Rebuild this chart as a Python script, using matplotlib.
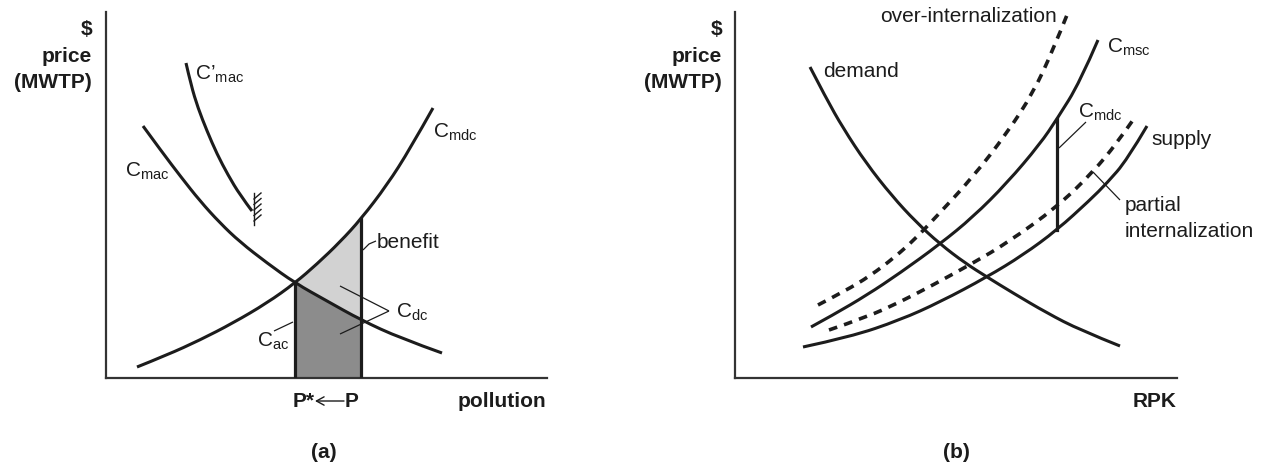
import matplotlib
matplotlib.use("Agg")
import matplotlib.pyplot as plt
from matplotlib.path import Path
from matplotlib.patches import PathPatch
import numpy as np

plt.rcParams['font.family'] = ['Liberation Sans', 'DejaVu Sans']
plt.rcParams['mathtext.fontset'] = 'custom'
plt.rcParams['mathtext.rm'] = 'Liberation Sans'
plt.rcParams['mathtext.it'] = 'Liberation Sans'
plt.rcParams['mathtext.bf'] = 'Liberation Sans:bold'

# ---------------- data (read from the picture, pixel units, y measured from top) -----
# panel (a)
cmac_x = [143, 162, 181, 200, 220, 240, 267, 295, 327, 361, 400, 442]
cmac_y = [126, 152, 177, 201, 223, 242, 263, 283, 301, 320, 338, 353]
cmac2_x = [186, 191, 198, 207, 217, 228, 240, 252]
cmac2_y = [63, 85, 108, 131, 154, 175, 195, 211]
cmdc_x = [137, 167, 200, 233, 267, 295, 317, 340, 361, 387, 410, 433]
cmdc_y = [367, 355, 340, 323, 303, 283, 264, 242, 219, 185, 149, 108]
p_star_x = 295
p_x = 361
hatch_x = 254
hatch_y = [199, 204.5, 210, 215.5, 221]

# panel (b)
demand_x = [810, 826, 843, 866, 892, 916, 940, 965, 987, 1013, 1047, 1080, 1120]
demand_y = [67, 98, 128, 163, 196, 222, 244, 263, 277, 293, 313, 330, 346]
msc_x = [811, 833, 867, 900, 940, 973, 1007, 1040, 1057, 1080, 1098]
msc_y = [327, 315, 295, 273, 244, 217, 183, 144, 119, 82, 40]
over_x = [818, 845, 870, 895, 915, 935, 973, 1007, 1033, 1053, 1067]
over_y = [305, 291, 276, 257, 239, 218, 177, 133, 93, 50, 15]
partial_x = [829, 867, 900, 933, 973, 1007, 1057, 1093, 1117, 1133]
partial_y = [330, 317, 302, 285, 263, 243, 207, 172, 143, 120]
supply_x = [803, 850, 900, 940, 987, 1023, 1057, 1090, 1107, 1127, 1147]
supply_y = [347, 337, 320, 302, 277, 255, 230, 200, 183, 160, 126]
mdc_b_x = 1057

W, H = 1265, 463
INK = '#1c1c1c'
FS = 15

fig = plt.figure(figsize=(W / 100, H / 100), dpi=100)


def add_panel(x0, x1, ytop, ybot):
    ax = fig.add_axes([x0 / W, 1 - ybot / H, (x1 - x0) / W, (ybot - ytop) / H])
    ax.set_xlim(x0, x1)
    ax.set_ylim(ybot, ytop)
    for s in ('top', 'right'):
        ax.spines[s].set_visible(False)
    for s in ('left', 'bottom'):
        ax.spines[s].set_linewidth(1.6)
        ax.spines[s].set_color('#333333')
    ax.set_xticks([])
    ax.set_yticks([])
    ax.patch.set_alpha(0)
    return ax


def smooth_curve(ax, xs, ys, dashed=False):
    """Draw a smooth curve using the read points as quadratic Bezier control points."""
    pts = np.column_stack([xs, ys]).astype(float)
    n = len(pts)
    verts = [pts[0]]
    codes = [Path.MOVETO]
    for i in range(1, n - 1):
        end = pts[n - 1] if i == n - 2 else (pts[i] + pts[i + 1]) / 2
        verts += [pts[i], end]
        codes += [Path.CURVE3, Path.CURVE3]
    if n == 2:
        verts.append(pts[1])
        codes.append(Path.LINETO)
    if dashed:
        patch = PathPatch(Path(verts, codes), facecolor='none', edgecolor=INK,
                          lw=2.6, linestyle=(0, (2.4, 2.0)), capstyle='butt',
                          zorder=3, clip_on=False)
    else:
        patch = PathPatch(Path(verts, codes), facecolor='none', edgecolor=INK,
                          lw=2.2, capstyle='butt', joinstyle='round',
                          zorder=3, clip_on=False)
    ax.add_patch(patch)


def txt(ax, x, y, s, ha='left', bold=False, size=FS):
    ax.text(x, y, s, ha=ha, va='baseline', fontsize=size,
            fontweight='bold' if bold else 'normal', color=INK, clip_on=False)


def leader(ax, xs, ys):
    ax.plot(xs, ys, color=INK, lw=0.9, solid_capstyle='butt', clip_on=False)


# ---------------- panel (a) ----------------
axa = add_panel(106, 547, 12, 378)

# shaded areas
sel_dc = [i for i, x in enumerate(cmdc_x) if p_star_x <= x <= p_x]
sel_ac = [i for i, x in enumerate(cmac_x) if p_star_x <= x <= p_x]
light_x = [cmdc_x[i] for i in sel_dc] + [cmac_x[i] for i in reversed(sel_ac)]
light_y = [cmdc_y[i] for i in sel_dc] + [cmac_y[i] for i in reversed(sel_ac)]
axa.fill(light_x, light_y, color='#d2d2d2', lw=0, zorder=1)
dark_x = [cmac_x[i] for i in sel_ac] + [p_x, p_star_x]
dark_y = [cmac_y[i] for i in sel_ac] + [378, 378]
axa.fill(dark_x, dark_y, color='#8c8c8c', lw=0, zorder=1)

smooth_curve(axa, cmac_x, cmac_y)
smooth_curve(axa, cmdc_x, cmdc_y)
smooth_curve(axa, cmac2_x, cmac2_y)

# vertical lines at P* and P
top_pstar = cmdc_y[cmdc_x.index(p_star_x)]
top_p = cmdc_y[cmdc_x.index(p_x)]
axa.plot([p_star_x, p_star_x], [top_pstar, 378], color=INK, lw=2.3, zorder=3)
axa.plot([p_x, p_x], [top_p, 378], color=INK, lw=2.3, zorder=3)

# hatch (barrier) at the end of C'mac
axa.plot([hatch_x, hatch_x], [193, 225], color=INK, lw=1.0, zorder=3)
for hy in hatch_y:
    axa.plot([hatch_x, hatch_x + 7], [hy, hy - 6], color=INK, lw=1.0, zorder=3)

# labels
txt(axa, 195, 80, r"C’$_{\mathrm{mac}}$")
txt(axa, 125, 177, r"C$_{\mathrm{mac}}$")
txt(axa, 433, 138, r"C$_{\mathrm{mdc}}$")
txt(axa, 377, 248, "benefit")
leader(axa, [363, 369, 376], [250, 244, 241])
txt(axa, 396, 318, r"C$_{\mathrm{dc}}$")
leader(axa, [340, 389], [286, 311])
leader(axa, [340, 389], [334, 311])
txt(axa, 257, 347, r"C$_{\mathrm{ac}}$")
leader(axa, [274, 293], [331, 322])

txt(axa, 92, 35, "$", ha='right', bold=True)
txt(axa, 92, 62, "price", ha='right', bold=True)
txt(axa, 92, 88, "(MWTP)", ha='right', bold=True)

txt(axa, 293, 407, "P*", bold=True)
txt(axa, 359, 407, "P", ha='right', bold=True)
axa.annotate("", xy=(315, 401), xytext=(344, 401), xycoords='data',
             arrowprops=dict(arrowstyle='->,head_length=0.55,head_width=0.3',
                             lw=1.0, color=INK, shrinkA=0, shrinkB=0),
             annotation_clip=False)
txt(axa, 458, 407, "pollution", bold=True)
txt(axa, 324, 458, "(a)", ha='center', bold=True)

# ---------------- panel (b) ----------------
axb = add_panel(735, 1177, 12, 378)

smooth_curve(axb, demand_x, demand_y)
smooth_curve(axb, msc_x, msc_y)
smooth_curve(axb, supply_x, supply_y)
smooth_curve(axb, over_x, over_y, dashed=True)
smooth_curve(axb, partial_x, partial_y, dashed=True)

top_b = msc_y[msc_x.index(mdc_b_x)]
bot_b = supply_y[supply_x.index(mdc_b_x)]
axb.plot([mdc_b_x, mdc_b_x], [top_b, bot_b], color=INK, lw=2.3, zorder=3)

txt(axb, 722, 35, "$", ha='right', bold=True)
txt(axb, 722, 62, "price", ha='right', bold=True)
txt(axb, 722, 88, "(MWTP)", ha='right', bold=True)

txt(axb, 823, 77, "demand")
txt(axb, 1057, 22, "over-internalization", ha='right')
txt(axb, 1107, 53, r"C$_{\mathrm{msc}}$")
txt(axb, 1078, 118, r"C$_{\mathrm{mdc}}$")
leader(axb, [1086, 1059], [122, 148])
txt(axb, 1151, 145, "supply")
txt(axb, 1125, 211, "partial")
txt(axb, 1125, 237, "internalization")
leader(axb, [1093, 1120], [172, 200])

txt(axb, 1177, 407, "RPK", ha='right', bold=True)
txt(axb, 956, 458, "(b)", ha='center', bold=True)

fig.savefig("out.png", dpi=100)
